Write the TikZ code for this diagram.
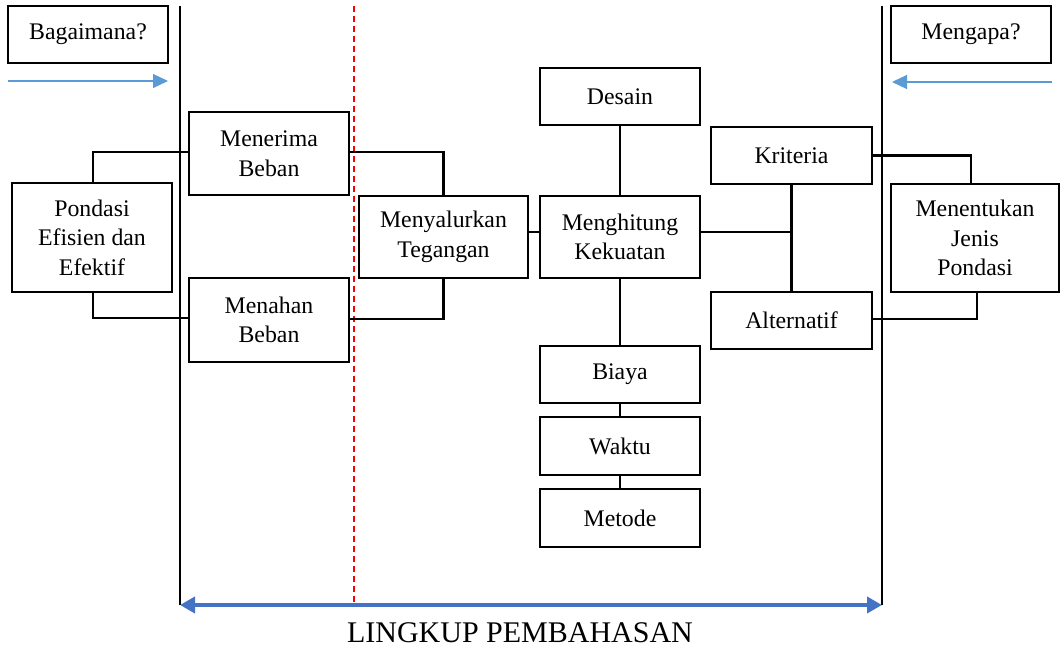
\documentclass[tikz,border=0pt]{standalone}
\usepackage{fontspec}
\setmainfont{Liberation Serif}
\usetikzlibrary{arrows.meta,calc}
\definecolor{lblue}{HTML}{5B9BD5}
\definecolor{dblue}{HTML}{4472C4}
\begin{document}
\begin{tikzpicture}[x=1pt,y=-1pt,
  box/.style={draw=black,line width=2pt,inner sep=0pt,align=center,
    font=\fontsize{23.8}{29.5}\selectfont},
  conn/.style={draw=black,line width=2.3pt},
  mainline/.style={draw=black,line width=2.4pt}]
\useasboundingbox (0,0) rectangle (1060,647);
% boxes
\node[box,minimum width=160,minimum height=57] (bag) at (88,34.5) {Bagaimana?};
\node[box,minimum width=160,minimum height=57] (why) at (971,34.5) {Mengapa?};
\node[box,minimum width=160,minimum height=109] (pondasi) at (92,237.5) {Pondasi\\Efisien dan\\Efektif};
\node[box,minimum width=160,minimum height=83] (terima) at (269,153.5) {Menerima\\Beban};
\node[box,minimum width=160,minimum height=84] (tahan) at (269,320) {Menahan\\Beban};
\node[box,minimum width=169,minimum height=82] (salur) at (443.5,237) {Menyalurkan\\Tegangan};
\node[box,minimum width=160,minimum height=82] (hitung) at (620,237) {Menghitung\\Kekuatan};
\node[box,minimum width=160,minimum height=57] (desain) at (620,96.5) {Desain};
\node[box,minimum width=160,minimum height=57] (biaya) at (620,374.5) {Biaya};
\node[box,minimum width=160,minimum height=58] (waktu) at (620,446) {Waktu};
\node[box,minimum width=160,minimum height=58] (metode) at (620,518) {Metode};
\node[box,minimum width=161,minimum height=57] (kriteria) at (791.5,155.5) {Kriteria};
\node[box,minimum width=161,minimum height=57] (alt) at (791.5,320.5) {Alternatif};
\node[box,minimum width=168,minimum height=108] (tentukan) at (975,238) {Menentukan\\Jenis\\Pondasi};
% main vertical lines
\coordinate (l1t) at (180,6);
\coordinate (l1b) at (180,605);
\coordinate (l2t) at (882,6);
\coordinate (l2b) at (882,605);
\coordinate (rdt) at (354,6);
\coordinate (rdb) at (354,605);
\draw[mainline] (l1t) -- (l1b);
\draw[mainline] (l2t) -- (l2b);
\draw[red,line width=1.4pt,dash pattern=on 6pt off 4pt] (rdt) -- (rdb);
% connectors
\draw[conn] ([xshift=1pt]pondasi.north) |- ([yshift=1.5pt]terima.west);
\draw[conn] ([xshift=1pt]pondasi.south) |- ([yshift=2pt]tahan.west);
\draw[conn] ([yshift=1.5pt]terima.east) -| (salur.north);
\draw[conn] ([yshift=1pt]tahan.east) -| (salur.south);
\draw[conn] ([yshift=5pt]salur.east) -- ([yshift=5pt]hitung.west);
\draw[conn] (desain.south) -- (hitung.north);
\draw[conn] (hitung.south) -- (biaya.north);
\draw[conn] (biaya.south) -- (waktu.north);
\draw[conn] (waktu.south) -- (metode.north);
\draw[conn] (kriteria.south) -- (alt.north);
\draw[conn] ([yshift=5pt]hitung.east) -- ([yshift=5pt]hitung.east -| kriteria.south);
\draw[conn] (kriteria.east) -| ([xshift=-4pt]tentukan.north);
\draw[conn] ([yshift=1.5pt]alt.east) -| ([xshift=2pt]tentukan.south);
% blue arrows
\coordinate (a1s) at (8,81);
\coordinate (a1e) at (168,81);
\coordinate (a2s) at (1052,82);
\coordinate (a2e) at (892,82);
\draw[lblue,line width=1.1pt,-{Triangle[length=15pt,width=14pt]}] (a1s) -- (a1e);
\draw[lblue,line width=1.1pt,-{Triangle[length=15pt,width=14pt]}] (a2s) -- (a2e);
\draw[dblue,line width=4pt,{Triangle[length=15pt,width=16pt]}-{Triangle[length=15pt,width=16pt]}] (l1b) -- (l2b);
\node[anchor=base,inner sep=0pt,font=\fontsize{30}{36}\selectfont] (title) at (520,642) {LINGKUP PEMBAHASAN};
\end{tikzpicture}
\end{document}
